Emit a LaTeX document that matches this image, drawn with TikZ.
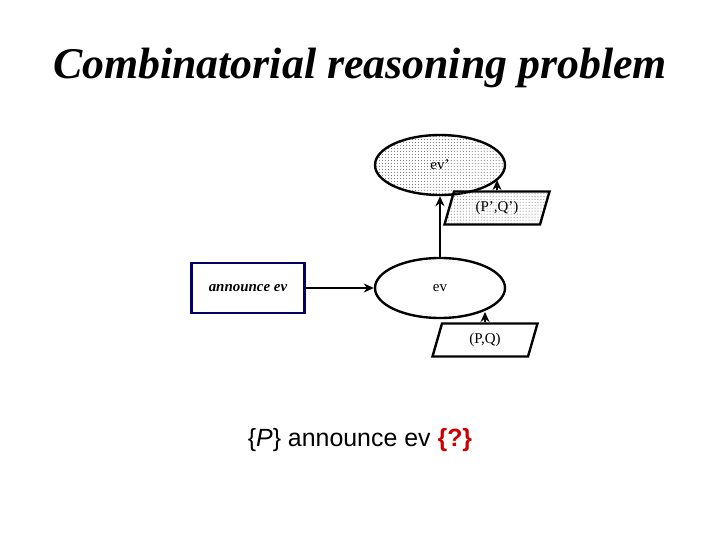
\documentclass[tikz,border=0pt]{standalone}
\usepackage{fontspec}
\setmainfont{Liberation Serif}
\setsansfont{Liberation Sans}
\usetikzlibrary{shapes.geometric,arrows.meta,patterns,positioning}
\tikzset{
    event/.style={draw, line width=2.4pt, ellipse, minimum width=130bp, minimum height=60bp, inner sep=0pt},
    pair/.style={draw, line width=2.4pt, trapezium, trapezium left angle=55, trapezium right angle=125,
        trapezium stretches body, minimum width=105bp, minimum height=33bp, inner sep=0pt},
    dotted fill/.style={pattern=dots, pattern color=black!60},
    flow/.style={-{Stealth[length=10bp,width=9bp]}, line width=2.4pt}
}
\begin{document}
\begin{tikzpicture}[x=1bp, y=-1bp]
        \useasboundingbox (0,0) rectangle (720,540);

        % title
        \node[font=\fontsize{44}{48}\selectfont\bfseries\itshape] (title) at (360,68) {Combinatorial reasoning problem};

        % events
        \node[event, dotted fill, font=\fontsize{15}{17}\selectfont] (evp) at (440,165) {ev'};
        \node[event, font=\fontsize{15}{17}\selectfont] (ev) at (440,288) {ev};

        % pairs
        \node[pair, dotted fill, font=\fontsize{15}{17}\selectfont] (pqp) at (497,208) {(P',Q')};
        \node[pair, font=\fontsize{15}{17}\selectfont] (pq) at (485,340) {(P,Q)};

        % action
        \node[draw=blue!40!black, line width=2.6pt, minimum width=113bp, minimum height=50bp,
            font=\fontsize{15}{17}\selectfont\bfseries\itshape] (ann) at (248,288) {announce ev};

        % arrows
        \draw[flow] (ann.east) -- (ev.west);
        \draw[flow] (ev.north) -- (evp.south);
        \draw[flow] (pqp.north -| 497,0) -- (497,180);
        \draw[flow] (pq.north -| 485,0) -- (485,312);

        % triple
        \node[font=\fontsize{25}{29}\selectfont\sffamily] (triple) at (360,440)
            {\{\textit{P}\} announce ev \textcolor{red!80!black}{\textbf{\{?\}}}};
\end{tikzpicture}
\end{document}
